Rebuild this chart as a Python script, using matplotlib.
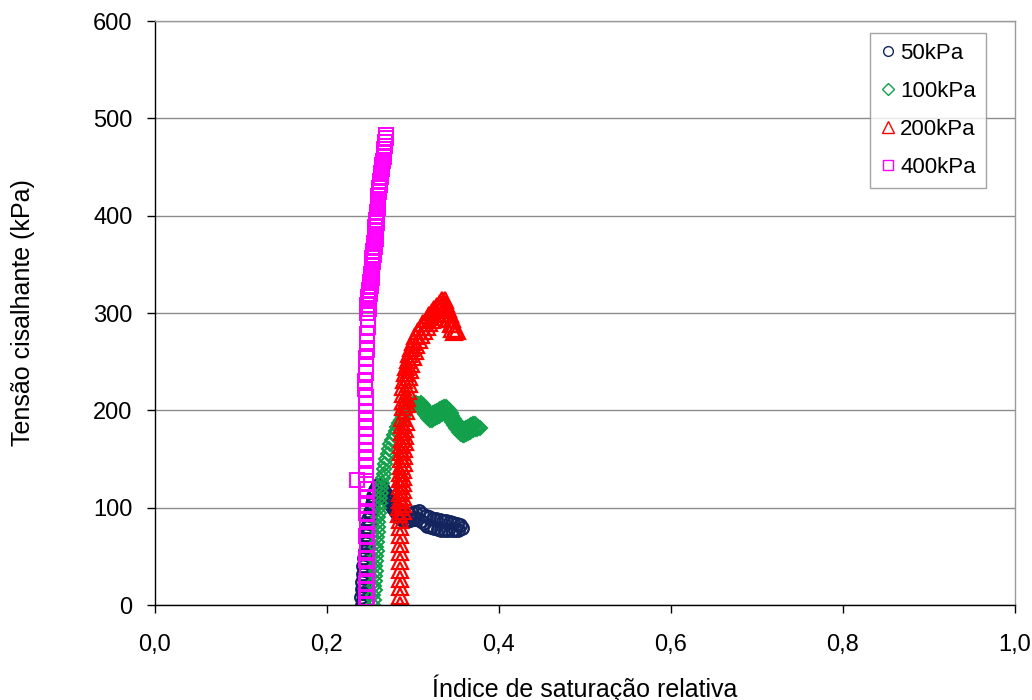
import matplotlib
matplotlib.use("Agg")
import matplotlib.pyplot as plt
from matplotlib.ticker import FuncFormatter

plt.rcParams['font.family'] = ['Liberation Sans', 'DejaVu Sans']

# 50 kPa
x50 = [0.241, 0.242, 0.240, 0.242, 0.241, 0.243, 0.241, 0.243, 0.242, 0.244,
       0.242, 0.244, 0.243, 0.245, 0.244, 0.246, 0.245, 0.247, 0.246, 0.248,
       0.247, 0.249, 0.248, 0.250, 0.250, 0.252, 0.252, 0.254, 0.254, 0.256,
       0.256, 0.258, 0.259, 0.261, 0.262, 0.264, 0.265, 0.267, 0.268, 0.270,
       0.271, 0.273, 0.274, 0.276, 0.277, 0.279, 0.280, 0.282, 0.283, 0.285,
       0.286, 0.288, 0.290, 0.291, 0.293, 0.295, 0.297, 0.299, 0.301, 0.303,
       0.305, 0.307, 0.309, 0.311, 0.313, 0.315, 0.317, 0.319, 0.321, 0.323,
       0.325, 0.327, 0.329, 0.331, 0.333, 0.335, 0.337, 0.339, 0.341, 0.343,
       0.345, 0.347, 0.349, 0.351, 0.353, 0.355, 0.357]
y50 = [0, 4, 8, 12, 16, 20, 24, 28, 32, 36,
       40, 44, 48, 52, 56, 60, 64, 68, 72, 76,
       80, 84, 88, 92, 96, 100, 104, 108, 112, 115,
       118, 121, 123, 122, 119, 121, 116, 117, 112, 113,
       108, 109, 104, 105, 100, 101, 96, 97, 92, 93,
       88, 89, 86, 91, 86, 93, 87, 95, 88, 96,
       88, 97, 86, 94, 84, 91, 81, 90, 80, 88,
       79, 88, 78, 87, 77, 86, 77, 86, 77, 85,
       77, 84, 77, 83, 77, 82, 79]

# 100 kPa
x100 = [0.254, 0.255, 0.254, 0.256, 0.255, 0.256, 0.256, 0.257, 0.256, 0.257,
        0.257, 0.258, 0.257, 0.258, 0.258, 0.259, 0.259, 0.260, 0.260, 0.261,
        0.261, 0.262, 0.262, 0.263, 0.263, 0.264, 0.265, 0.266, 0.267, 0.268,
        0.269, 0.271, 0.272, 0.274, 0.276, 0.278, 0.280, 0.282, 0.284, 0.286,
        0.288, 0.290, 0.292, 0.294, 0.296, 0.298, 0.300, 0.302, 0.304, 0.306,
        0.308, 0.310, 0.310, 0.312, 0.312, 0.314, 0.314, 0.316, 0.316, 0.318,
        0.318, 0.320, 0.320, 0.322, 0.322, 0.324, 0.324, 0.326, 0.326, 0.328,
        0.328, 0.330, 0.330, 0.332, 0.332, 0.334, 0.334, 0.336, 0.336, 0.338,
        0.338, 0.340, 0.340, 0.342, 0.342, 0.344, 0.344, 0.346, 0.346, 0.348,
        0.348, 0.350, 0.350, 0.352, 0.352, 0.354, 0.354, 0.356, 0.356, 0.358,
        0.358, 0.360, 0.360, 0.362, 0.362, 0.364, 0.364, 0.366, 0.366, 0.368,
        0.368, 0.370, 0.370, 0.372, 0.372, 0.374, 0.376, 0.378]
y100 = [0, 5, 10, 15, 20, 25, 30, 35, 40, 45,
        50, 55, 60, 65, 70, 75, 80, 85, 90, 95,
        100, 105, 110, 115, 120, 125, 130, 135, 140, 145,
        150, 155, 160, 165, 170, 175, 179, 183, 187, 190,
        193, 196, 199, 201, 203, 205, 206, 207, 208, 207,
        205, 202, 208, 199, 205, 196, 202, 194, 200, 192,
        198, 190, 196, 190, 196, 191, 197, 192, 198, 193,
        199, 194, 200, 195, 201, 196, 202, 197, 203, 197,
        203, 196, 202, 194, 200, 191, 197, 188, 194, 185,
        191, 182, 188, 180, 186, 178, 184, 176, 182, 175,
        181, 175, 181, 176, 182, 177, 183, 178, 184, 179,
        185, 180, 186, 181, 186, 181, 183, 182]

# 200 kPa
x200 = [0.285, 0.285, 0.285, 0.285, 0.285, 0.285, 0.285, 0.285, 0.285, 0.285,
        0.285, 0.284, 0.288, 0.284, 0.288, 0.285, 0.288, 0.285, 0.289, 0.285,
        0.289, 0.285, 0.289, 0.285, 0.289, 0.286, 0.290, 0.286, 0.290, 0.286,
        0.290, 0.286, 0.291, 0.287, 0.291, 0.287, 0.291, 0.287, 0.292, 0.287,
        0.292, 0.288, 0.293, 0.288, 0.293, 0.289, 0.294, 0.289, 0.295, 0.290,
        0.296, 0.291, 0.297, 0.292, 0.298, 0.294, 0.300, 0.296, 0.302, 0.298,
        0.304, 0.300, 0.307, 0.303, 0.310, 0.306, 0.313, 0.309, 0.316, 0.312,
        0.319, 0.316, 0.322, 0.319, 0.325, 0.322, 0.328, 0.325, 0.331, 0.328,
        0.333, 0.331, 0.335, 0.334, 0.337, 0.339, 0.338, 0.341, 0.340, 0.343,
        0.342, 0.345, 0.344, 0.347, 0.346, 0.349, 0.348, 0.351]
y200 = [0, 9, 18, 27, 36, 45, 54, 63, 72, 80,
        87, 94, 97, 101, 104, 108, 111, 115, 118, 122,
        125, 129, 132, 136, 139, 143, 146, 150, 153, 157,
        160, 164, 167, 171, 174, 178, 181, 185, 188, 192,
        199, 203, 206, 210, 213, 217, 220, 224, 227, 231,
        234, 238, 241, 245, 248, 252, 255, 258, 261, 264,
        267, 270, 272, 276, 277, 281, 282, 286, 286, 290,
        290, 294, 293, 298, 296, 301, 300, 304, 303, 307,
        306, 310, 309, 313, 313, 309, 304, 304, 299, 299,
        294, 294, 289, 289, 284, 284, 280, 281]

# 400 kPa
x400 = [0.247, 0.246, 0.247, 0.246, 0.247, 0.247, 0.246, 0.247, 0.247, 0.246,
        0.247, 0.247, 0.246, 0.247, 0.246, 0.247, 0.235, 0.245, 0.246, 0.245,
        0.246, 0.245, 0.246, 0.246, 0.245, 0.246, 0.246, 0.246, 0.245, 0.244,
        0.244, 0.245, 0.246, 0.246, 0.247, 0.247, 0.247, 0.248, 0.248,
        0.247, 0.249, 0.247, 0.249, 0.248, 0.250, 0.249, 0.251, 0.250, 0.252,
        0.251, 0.253, 0.252, 0.254, 0.253, 0.255, 0.254, 0.256, 0.255, 0.257,
        0.256, 0.257, 0.256, 0.258, 0.257, 0.258, 0.258, 0.259, 0.259, 0.260,
        0.260, 0.261, 0.261, 0.262, 0.262, 0.263, 0.263, 0.264, 0.264, 0.265,
        0.266, 0.266, 0.267, 0.268, 0.268, 0.269, 0.269]
y400 = [0, 7, 15, 23, 31, 39, 47, 55, 63, 71,
        79, 87, 95, 103, 111, 119, 128, 124, 134, 142,
        150, 158, 166, 174, 182, 190, 198, 206, 214, 222,
        230, 238, 246, 254, 262, 270, 278, 286, 294,
        300, 304, 308, 312, 316, 320, 324, 328, 332, 336,
        340, 344, 348, 352, 356, 360, 364, 368, 372, 376,
        380, 384, 388, 392, 396, 400, 404, 408, 412, 416,
        420, 424, 428, 432, 436, 440, 444, 448, 452, 456,
        460, 464, 468, 472, 476, 480, 483]

series = [
    (x50, y50, '50kPa', 'o', '#14245e', 9, 1.7),
    (x100, y100, '100kPa', 'D', '#12a04a', 7.5, 1.5),
    (x200, y200, '200kPa', '^', '#ff0000', 12, 1.6),
    (x400, y400, '400kPa', 's', '#ff00ff', 10, 1.4),
]
legend_sizes = [7, 6.5, 8.5, 7.5]

fig = plt.figure(figsize=(10.32, 7.0), dpi=100)
ax = fig.add_axes([0.150, 0.1357, 0.8335, 0.8343])

for xs, ys, lab, mk, col, ms, mew in series:
    ax.plot(xs, ys, linestyle='none', marker=mk, markersize=ms,
            markerfacecolor='none', markeredgecolor=col, markeredgewidth=mew,
            label=lab)

ax.set_xlim(0, 1.0)
ax.set_ylim(0, 600)
ax.set_xticks([0, 0.2, 0.4, 0.6, 0.8, 1.0])
ax.set_yticks(range(0, 601, 100))
ax.xaxis.set_major_formatter(FuncFormatter(lambda v, p: ('%.1f' % v).replace('.', ',')))

ax.yaxis.grid(True, color='#8c8c8c', linewidth=1.0)
ax.set_axisbelow(True)
for s in ['top', 'right']:
    ax.spines[s].set_color('#9a9a9a')
    ax.spines[s].set_linewidth(1.0)
for s in ['left', 'bottom']:
    ax.spines[s].set_color('black')
    ax.spines[s].set_linewidth(1.0)

ax.tick_params(axis='y', direction='out', length=6, width=1, pad=10, labelsize=17)
ax.tick_params(axis='x', direction='out', length=6, width=1, pad=15, labelsize=17)

ax.set_ylabel('Tensão cisalhante (kPa)', fontsize=18, labelpad=42)
ax.set_xlabel('Índice de saturação relativa', fontsize=18, labelpad=13)

leg = ax.legend(loc='upper right', bbox_to_anchor=(0.9663, 0.9795), borderaxespad=0,
                frameon=True, fancybox=False, edgecolor='#8c8c8c', fontsize=16,
                handlelength=0.7, handletextpad=0.2, borderpad=0.45,
                labelspacing=0.76)
leg.get_frame().set_linewidth(1.0)
for h, s in zip(leg.legend_handles, legend_sizes):
    h.set_markersize(s)
    h.set_markeredgewidth(1.0)

fig.savefig('out.png', dpi=100)
